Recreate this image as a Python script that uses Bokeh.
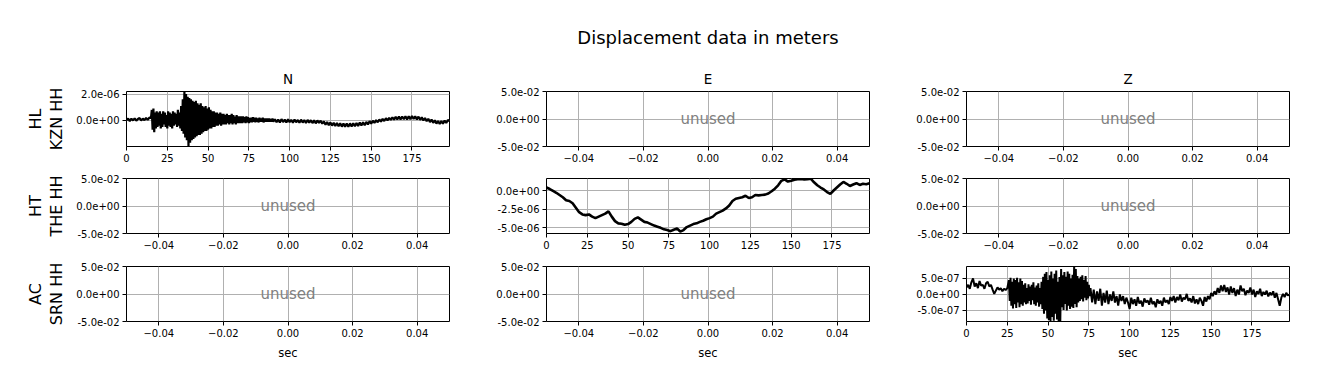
from bokeh.plotting import figure
from bokeh.models import Range1d, FixedTicker, CustomJSTickFormatter, Title
from bokeh.layouts import gridplot
from bokeh.embed import file_html
from bokeh.resources import INLINE
from bokeh.core.properties import value

# ---------------- data ----------------
SUPTITLE = "Displacement data in meters"
COMPONENTS = ["N", "E", "Z"]
STATIONS = [("HL", "KZN HH"), ("HT", "THE HH"), ("AC", "SRN HH")]
X_LABEL = "sec"
UNUSED_TEXT = "unused"

# Each trace is a list of segments: (start time [s], sample interval [s], values)

# N component of HL KZN HH, values in units of 1e-7 m
N_SCALE = 1e-7
N_SEG_A = [0.2, 1.5, -0.5, 1.3, 0.0, 1.6, -0.2, 1.1, 1.8, 0.0, 1.4, 0.2, 1.9, 0.4, 2.1]
N_SEG_B = [
    2, 8, -7, 9, -9, 6, -6, 7, -5, 6,
    -4, 7, -6, 5, -5, 7, -3, 6, -5, 4,
    -6, 7, -4, 6, -5, 5, -6, 7, -4, 6,
    -3, 5, -5, 8, -4, 6, -6, 11, -8, 16,
    -10, 22, -13, 20, -15, 18, -20, 17, -17, 16,
    -15, 15, -14, 14, -13, 15, -12, 13, -11, 12,
    -11, 13, -10, 11, -9, 10, -8, 11, -8, 9,
    -7, 10, -6, 8, -6, 7, -5, 7, -5, 6,
    -4, 6, -4, 5, -3, 6, -4, 5, -3, 5,
    -3, 4, -3, 5, -2, 4, -3, 4, -2, 5,
    -3, 4, -2, 3, -3, 4, -2, 3, -2, 3,
    -2, 3, -2, 3, -1.5, 2.5, -2, 3, -1.5, 2.5,
    -2, 2, -1.5, 2, -1.5, 2.5, -1, 2, -1.5, 2,
    -1, 1.5, -1.5, 2, -1, 1.5, -1, 2, -1.5, 1.5,
    -1, 1.5, -1, 1.5, -1, 1.5, -1, 1, -1, 1.5,
    -1,
]
N_SEG_C = [
    0.9, -1.4, 0.7, -1.6, 1.0, -1.2, 0.6, -1.5, 0.8, -1.3, 0.5, -1.7, 0.7, -1.4, 0.4,
    -1.8, 0.6, -1.6, 0.3, -1.9, 0.4, -1.7, 0.2, -2.0, 0.1, -2.2, 0.0, -1.9, -0.2, -2.4,
    -0.8, -3.2, -1.2, -3.6, -1.5, -3.9, -1.8, -4.2, -2.0, -4.4, -2.2, -4.7, -2.4,
    -4.8, -2.3, -4.9, -2.2, -4.6, -2.1, -4.4, -1.9, -4.2, -1.6, -3.9, -1.4,
    -3.6, -1.1, -3.0, -0.6, -2.4, -0.2, -1.9, 0.2, -1.4, 0.7, -0.9, 1.2, -0.4, 1.7, 0.1,
    2.0, 0.4, 2.4, 0.6, 2.7, 0.8, 2.9, 0.7, 3.0, 0.9, 3.2, 0.8, 3.1, 1.0, 3.4, 1.1, 3.2, 0.8, 2.9, 0.5,
    2.4, 0.0, 1.8, -0.6, 1.2, -1.2, 0.7, -1.8, 0.1, -2.4, -0.4, -2.7, -0.5, -2.4, -0.1, -1.9, 0.4, -0.6,
]
N_SEGMENTS = [(0.0, 1.0, N_SEG_A), (15.0, 0.5, N_SEG_B), (91.0, 1.0, N_SEG_C)]
N_YRANGE = (-1.98e-6, 2.2e-6)
N_YTICKS = [0.0, 2e-6]

# E component of HT THE HH, values in units of 1e-7 m
E_SCALE = 1e-7
E_SEG = [
    4, 2, -0.5, -3, -6, -9, -13, -14, -17, -23,
    -29, -32, -33, -32, -35, -37, -35, -33, -31, -28,
    -35, -41, -44, -44.5, -46, -45, -42, -38, -36, -39,
    -42, -43, -45, -47, -48.5, -50, -52, -53, -54.5, -52.5,
    -51, -55, -53, -49, -47, -45, -44, -42, -40.5, -38.5,
    -37, -35, -31, -29, -27, -24, -20, -14, -11, -10,
    -9, -7, -10, -9, -6, -6.5, -6, -5.5, -4, -1,
    2.5, 7, 13, 15, 12, 13, 14.5, 15, 15.5, 14.8,
    15, 15.8, 11, 7, 4, 1.5, -2, -4.5, 0, 4,
    8, 11.5, 9, 6, 8, 9.8, 7.5, 9, 8.5, 9.8,
]
E_SEGMENTS = [(0.0, 2.0, E_SEG)]
E_YRANGE = (-5.76e-6, 1.61e-6)
E_YTICKS = [-5e-6, -2.5e-6, 0.0]

# Z component of AC SRN HH, values in units of 1e-8 m
Z_SCALE = 1e-8
Z_SEG_A = [22, 30, 18, 38, 50, 25, 35, 20, 42, 28, 30, 18, 35, 40, 25, 30, 15, 2, 12, 22,
           15, 20, 10, 18, 14, 20]
Z_SEG_B = [
    45, -20, 52, -35, 40, -44, 50, -30, 45, -42,
    52, -25, 38, -40, 50, -30, 42, -35, 30, -25,
    35, -30, 20, -28, 32, -20, 25, -32, 30, -18,
    38, -30, 22, -35, 28, -25, 35, -38, 20, -30,
    40, -45, 55, -60, 65, -50, 70, -75, 45, -80,
    60, -85, 72, -70, 50, -82, 65, -60, 75, -78,
    40, -85, 55, -84, 80, -40, 60, -48, 70, -30,
    55, -50, 72, -35, 65, -45, 50, -38, 62, -42,
    88, -30, 80, -40, 58, -25, 50, -20, 55, -15,
    60, -22, 45, -10, 58, -18, 40, -12, 30, -5,
]
Z_SEG_C = [
    20, -25, 15, -30, 10, -20, 18, -35, 5, -25, 12, -30, 0, -20, 10, -25, -5, -35, 0, -20,
    -5, -30, -10, -25, -45,
    -10, -30, -15, -35, -8, -28, -20, -38, -12, -25, -18, -32, -10, -30, -22, -40, -15, -28,
    -20, -35, -10, -25, -18, -30, -8,
    -20, -5, -25, -8, -18, 0, -22, -10, -15, 2, -20, -12, -25, -5, -28, -15, -30, -10, -20,
    -35, -8, -22, -5, -15, 5,
    -5, 10, 0, 20, 5, 28, 10, 30, 8, 22,
    0, 25, 5, 20, -5, 15, 0, 28, 10, 18, -2, 12, 5, 22, 0, 15, -8, 10, 2, 18, -5, 8, 0, 12,
    -6, 6, -2, 10, -10, 5,
    -15, -35, -10, 2, -8, 5, -3, 0,
]
Z_SEGMENTS = [(0.0, 1.0, Z_SEG_A), (26.0, 0.5, Z_SEG_B), (76.0, 1.0, Z_SEG_C)]
Z_YRANGE = (-8.44e-7, 8.75e-7)
Z_YTICKS = [-5e-7, 0.0, 5e-7]

TIME_RANGE = (0, 198)
TIME_TICKS = [0, 25, 50, 75, 100, 125, 150, 175]
UNUSED_RANGE = (-0.05, 0.05)
UNUSED_XTICKS = [-0.04, -0.02, 0.0, 0.02, 0.04]
UNUSED_YTICKS = [-0.05, 0.0, 0.05]

TRACES = {
    (0, 0): (N_SEGMENTS, N_SCALE, N_YRANGE, N_YTICKS, 2.2),
    (1, 1): (E_SEGMENTS, E_SCALE, E_YRANGE, E_YTICKS, 2.6),
    (2, 2): (Z_SEGMENTS, Z_SCALE, Z_YRANGE, Z_YTICKS, 2.0),
}

# ---------------- style ----------------
FONT = "DejaVu Sans"
TICK_FS = "10px"
GRID_COLOR = "#b0b0b0"

FRAME_W, FRAME_H = 323, 55
BORDER_LR = [(126, 17), (80, 17), (80, 17)]
BORDER_TB = [(91, 20), (12, 20), (13, 45)]

EXP_FMT = CustomJSTickFormatter(code="""
const s = tick.toExponential(1);
const parts = s.split('e');
const sign = parts[1][0];
let d = parts[1].slice(1);
if (d.length < 2) { d = '0' + d; }
return parts[0] + 'e' + sign + d;
""")
DEC_FMT = CustomJSTickFormatter(code="""
const a = Math.abs(tick).toFixed(2);
return (tick < -1e-12 ? '\\u2212' : '') + a;
""")


def style_axes(p):
    for ax in (p.xaxis[0], p.yaxis[0]):
        ax.axis_line_color = None
        ax.major_tick_in = 0
        ax.major_tick_out = 4
        ax.major_tick_line_color = "black"
        ax.minor_tick_line_color = None
        ax.major_label_text_font = FONT
        ax.major_label_text_font_size = TICK_FS
        ax.major_label_text_color = "black"
        ax.major_label_standoff = 3
    for g in (p.xgrid[0], p.ygrid[0]):
        g.grid_line_color = GRID_COLOR
        g.grid_line_width = 1
    p.outline_line_color = "black"
    p.outline_line_width = 1
    p.outline_line_alpha = 1


def make_title(text, size, standoff):
    return Title(text=text, align="center", text_font=FONT, text_font_size=size,
                 text_font_style="normal", text_color="black", standoff=standoff)


figs = []
for r in range(3):
    row = []
    for c in range(3):
        bl, br = BORDER_LR[c]
        bt, bb = BORDER_TB[r]
        trace = TRACES.get((r, c))
        if trace is not None:
            segments, scale, yr, yt, lw = trace
            xr = Range1d(*TIME_RANGE)
            yrng = Range1d(*yr)
        else:
            xr = Range1d(*UNUSED_RANGE)
            yrng = Range1d(*UNUSED_RANGE)
        p = figure(frame_width=FRAME_W, frame_height=FRAME_H,
                   x_range=xr, y_range=yrng,
                   output_backend="svg", toolbar_location=None,
                   min_border_left=bl, min_border_right=br,
                   min_border_top=bt, min_border_bottom=bb,
                   background_fill_color="white", border_fill_color="white")
        style_axes(p)
        if trace is not None:
            xt = FixedTicker(ticks=TIME_TICKS)
            ytk = FixedTicker(ticks=yt)
            p.xaxis[0].ticker = xt
            p.yaxis[0].ticker = ytk
            p.xgrid[0].ticker = xt
            p.ygrid[0].ticker = ytk
            p.yaxis[0].formatter = EXP_FMT
            times, ys = [], []
            for start, dt, vals in segments:
                times += [start + i * dt for i in range(len(vals))]
                ys += [v * scale for v in vals]
            p.line(times, ys, line_color="black", line_width=lw)
        else:
            xt = FixedTicker(ticks=UNUSED_XTICKS)
            ytk = FixedTicker(ticks=UNUSED_YTICKS)
            p.xaxis[0].ticker = xt
            p.yaxis[0].ticker = ytk
            p.xgrid[0].ticker = xt
            p.ygrid[0].ticker = ytk
            p.yaxis[0].formatter = EXP_FMT
            p.xaxis[0].formatter = DEC_FMT
            p.text(x=[0.0], y=[0.0], text=[UNUSED_TEXT], text_align="center",
                   text_baseline="middle", text_color="#808080",
                   text_font=value(FONT), text_font_size="15px")
        if r == 0:
            p.title.align = "center"
            p.title.text_font = FONT
            p.title.text_font_style = "normal"
            p.title.text_color = "black"
            if c == 1:
                p.title.text = SUPTITLE
                p.title.text_font_size = "18px"
                p.title.standoff = 33
                p.add_layout(make_title(COMPONENTS[c], "13.5px", 9), "above")
            else:
                p.title.text = COMPONENTS[c]
                p.title.text_font_size = "13.5px"
                p.title.standoff = 9
        if r == 2:
            p.xaxis[0].axis_label = X_LABEL
            p.xaxis[0].axis_label_text_font = FONT
            p.xaxis[0].axis_label_text_font_size = "11.5px"
            p.xaxis[0].axis_label_text_font_style = "normal"
            p.xaxis[0].axis_label_text_color = "black"
            p.xaxis[0].axis_label_standoff = 6
        if c == 0:
            net, sta = STATIONS[r]
            p.add_layout(make_title(sta, "16px", 15), "left")
            p.add_layout(make_title(net, "16px", -15), "left")
        row.append(p)
    figs.append(row)

grid = gridplot(figs, toolbar_location=None)
open("out.html", "w").write(file_html(grid, INLINE))
